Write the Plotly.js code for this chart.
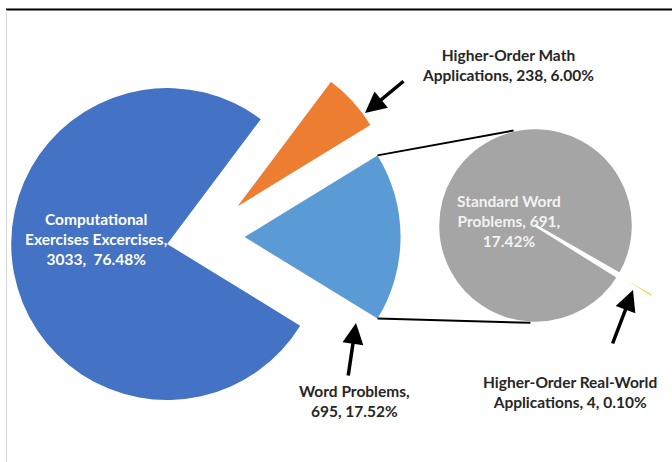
<!DOCTYPE html>
<html>
<head>
<meta charset="utf-8">
<script src="https://cdn.plot.ly/plotly-3.0.1.min.js"></script>
<style>html,body{margin:0;padding:0;background:#fff}#chart{width:672px;height:462px}</style>
</head>
<body>
<div id="chart"></div>
<script>
// main pie, in drawing order (clockwise from the top edge of Word Problems)
var mainNames = ["Word Problems", "Computational<br>Exercises Excercises", "Higher-Order Math<br>Applications"];
var mainValues = [695, 3033, 238];
var mainColors = ["#5B9BD5", "#4472C4", "#ED7D31"];
var mainPull = [0.26, 0.24, 0.29];

// second pie: the split of Word Problems
var subNames = ["Standard Word<br>Problems", "Higher-Order Real-World<br>Applications"];
var subValues = [691, 4];
var subColors = ["#A5A5A5", "#FFC000"];
var subPull = [0, 0.4];

var W = 672, H = 462;
var total = mainValues.reduce((a, b) => a + b, 0);
function pct(v) { return (100 * v / total).toFixed(2) + "%"; }
function px(x) { return x / W; }
function py(y) { return 1 - y / H; }

// where each pie sits, in pixels
var mainC = [204, 237], mainR = 156;
var subC = [535.5, 225.5], subR = 97.5;

function domainFor(c, r, pulls) {
    var half = r * (1 + Math.max.apply(null, pulls));
    return {x: [px(c[0] - half), Math.min(1, px(c[0] + half))], y: [py(c[1] + half), py(c[1] - half)]};
}

var wordHalf = 180 * mainValues[0] / total;
var yellowMid = 121;

var mainPie = {
    type: "pie",
    labels: mainNames,
    values: mainValues,
    sort: false,
    direction: "clockwise",
    rotation: 90 - wordHalf,
    pull: mainPull,
    marker: {colors: mainColors, line: {color: "#fff", width: 0}},
    textinfo: "none",
    hoverinfo: "label+value+percent",
    showlegend: false,
    domain: domainFor(mainC, mainR, mainPull)
};

var subPie = {
    type: "pie",
    labels: subNames,
    values: subValues,
    sort: false,
    direction: "clockwise",
    rotation: yellowMid - 360 + 180 * subValues[1] / subValues.reduce((a, b) => a + b, 0),
    pull: subPull,
    marker: {colors: subColors, line: {color: "#fff", width: 2.5}},
    textinfo: "none",
    hoverinfo: "label+value",
    showlegend: false,
    domain: domainFor(subC, subR, subPull)
};

// connector lines from the Word Problems slice to the second pie
var apexX = mainC[0] + mainPull[0] * mainR;
var rad = Math.PI / 180;
var cornerTop = [apexX + mainR * Math.cos(wordHalf * rad), mainC[1] - mainR * Math.sin(wordHalf * rad)];
var cornerBot = [apexX + mainR * Math.cos(wordHalf * rad), mainC[1] + mainR * Math.sin(wordHalf * rad)];
var subTop = [subC[0] + subR * Math.cos(103 * rad), subC[1] - subR * Math.sin(103 * rad)];
var subBot = [subC[0] + subR * Math.cos(-93 * rad), subC[1] - subR * Math.sin(-93 * rad)];

var shapes = [
    {type: "line", xref: "paper", yref: "paper", x0: px(cornerTop[0]), y0: py(cornerTop[1]), x1: px(subTop[0]), y1: py(subTop[1]), line: {color: "#000", width: 2}},
    {type: "line", xref: "paper", yref: "paper", x0: px(cornerBot[0]), y0: py(cornerBot[1]), x1: px(subBot[0]), y1: py(subBot[1]), line: {color: "#000", width: 2}},
    // frame
    {type: "line", xref: "paper", yref: "paper", x0: px(6), y0: py(9.5), x1: 1, y1: py(9.5), line: {color: "#000", width: 2}},
    {type: "line", xref: "paper", yref: "paper", x0: px(6.5), y0: py(10), x1: px(6.5), y1: 0, line: {color: "#d9d9d9", width: 1}}
];

var fam = "Lato, 'Open Sans', sans-serif";
var darkFont = {family: fam, size: 15.5, color: "#262626", weight: "bold"};
var whiteFont = {family: fam, size: 15.5, color: "#ffffff", weight: "bold"};
var greyText = {family: fam, size: 15.5, color: "#f2f2f2", weight: "bold"};

function label(x, y, text, font) {
    return {xref: "paper", yref: "paper", x: px(x), y: py(y), text: text, showarrow: false, font: font, align: "center", xanchor: "center", yanchor: "middle"};
}
function arrow(hx, hy, tx, ty) {
    return {xref: "paper", yref: "paper", x: px(hx), y: py(hy), ax: tx - hx, ay: ty - hy, text: "", showarrow: true,
        arrowhead: 2, arrowsize: 1.2, arrowwidth: 3.5, arrowcolor: "#000", standoff: 0, startstandoff: 0};
}

var annotations = [
    label(96, 239, mainNames[1] + ",<br>" + mainValues[1] + ",  " + pct(mainValues[1]), whiteFont),
    label(508, 65, mainNames[2] + ", " + mainValues[2] + ", " + pct(mainValues[2]), darkFont),
    label(354, 401, mainNames[0] + ",<br>" + mainValues[0] + ", " + pct(mainValues[0]), darkFont),
    label(509, 221, subNames[0] + ", " + subValues[0] + ",<br>" + pct(subValues[0]), greyText),
    label(570, 392, subNames[1] + ", " + subValues[1] + ", " + pct(subValues[1]), darkFont),
    arrow(365, 113, 405, 80),
    arrow(356, 323, 348, 377),
    arrow(633, 290, 612, 345)
];

var layout = {
    width: W,
    height: H,
    margin: {l: 0, r: 0, t: 0, b: 0},
    paper_bgcolor: "#fff",
    showlegend: false,
    shapes: shapes,
    annotations: annotations
};

Plotly.newPlot("chart", [mainPie, subPie], layout, {displayModeBar: false});
</script>
</body>
</html>
